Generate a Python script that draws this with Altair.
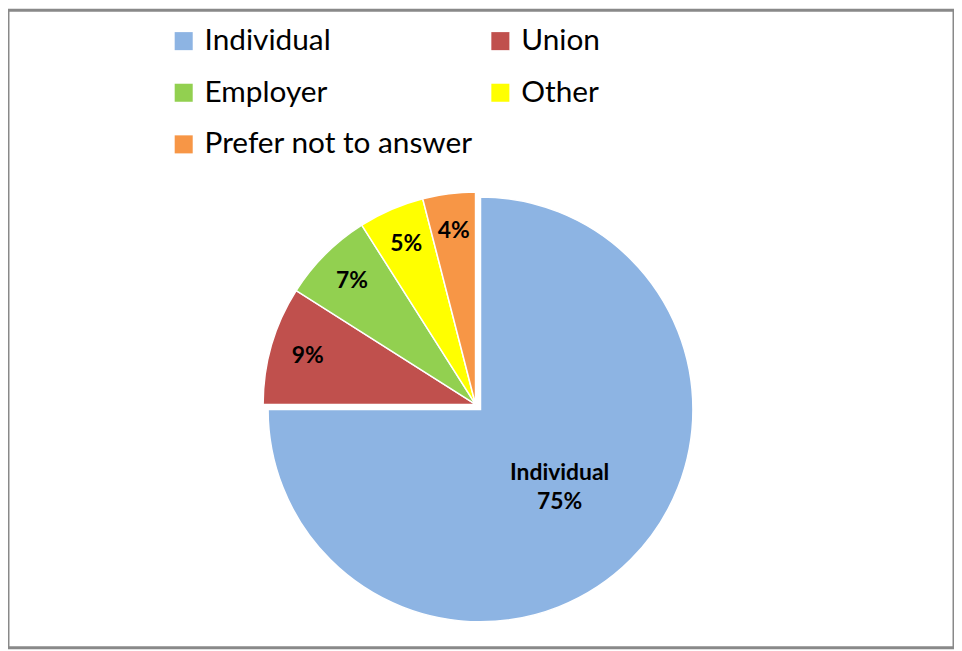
import altair as alt
import pandas as pd
import math

categories = ["Individual", "Union", "Employer", "Other", "Prefer not to answer"]
values = [75, 9, 7, 5, 4]
colors = ["#8DB4E3", "#C0504D", "#92D050", "#FFFF00", "#F79646"]
labels = ["Individual\n75%", "9%", "7%", "5%", "4%"]

# legend reads row by row: Individual, Union / Employer, Other / Prefer not to answer
legend_order = ["Individual", "Employer", "Prefer not to answer", "Union", "Other"]
legend_colors = [colors[categories.index(c)] for c in legend_order]

df = pd.DataFrame({
    "category": categories,
    "value": values,
    "order": list(range(len(categories))),
    "label": labels,
})

CX, CY, R = 471, 397, 214
EX, EY = 5, 5  # explode offset of the Individual slice

theta_scale = alt.Scale(domain=[0, 100], range=[0, 2 * math.pi])
color_enc = alt.Color(
    "category:N",
    scale=alt.Scale(domain=legend_order, range=legend_colors),
    legend=alt.Legend(
        title=None, orient="none", legendX=162, legendY=16, columns=2,
        symbolType="square", symbolSize=330, symbolStrokeWidth=0,
        labelFont="Lato", labelFontSize=30, labelColor="#000000",
        labelOffset=6, columnPadding=12, rowPadding=22, padding=0,
        labelLimit=400,
    ),
)

base = alt.Chart(df).transform_window(
    cum="sum(value)", sort=[alt.SortField("order")], frame=[None, 0]
).transform_calculate(
    start="datum.cum - datum.value",
    mid="datum.cum - datum.value / 2",
)

arc_main = base.transform_filter(alt.datum.category == "Individual").mark_arc(
    outerRadius=R, stroke="white", strokeWidth=1.5
).encode(
    x=alt.value(CX + EX), y=alt.value(CY + EY),
    theta=alt.Theta("start:Q", scale=theta_scale), theta2="cum:Q",
    color=color_enc,
)

arc_rest = base.transform_filter(alt.datum.category != "Individual").mark_arc(
    outerRadius=R, stroke="white", strokeWidth=1.5
).encode(
    x=alt.value(CX), y=alt.value(CY),
    theta=alt.Theta("start:Q", scale=theta_scale), theta2="cum:Q",
    color=color_enc,
)

txt_main = base.transform_filter(alt.datum.category == "Individual").mark_text(
    font="Lato", fontWeight="bold", fontSize=23, lineBreak="\n", lineHeight=30,
    radius=90, color="black", xOffset=16,
).encode(
    x=alt.value(CX + EX), y=alt.value(CY + EY),
    theta=alt.Theta("mid:Q", scale=theta_scale),
    text="label:N",
)

txt_rest = base.transform_filter(alt.datum.category != "Individual").mark_text(
    font="Lato", fontWeight="bold", fontSize=23, radius=176, color="black",
).encode(
    x=alt.value(CX), y=alt.value(CY),
    theta=alt.Theta("mid:Q", scale=theta_scale),
    text="label:N",
)

chart = alt.layer(arc_main, arc_rest, txt_main, txt_rest).properties(
    width=953, height=642, padding=0, autosize=alt.AutoSizeParams(type="none"),
    background="white",
).configure_view(stroke="#898989", strokeWidth=3)

chart.save("out.html", embed_options={"renderer": "svg", "actions": False})
